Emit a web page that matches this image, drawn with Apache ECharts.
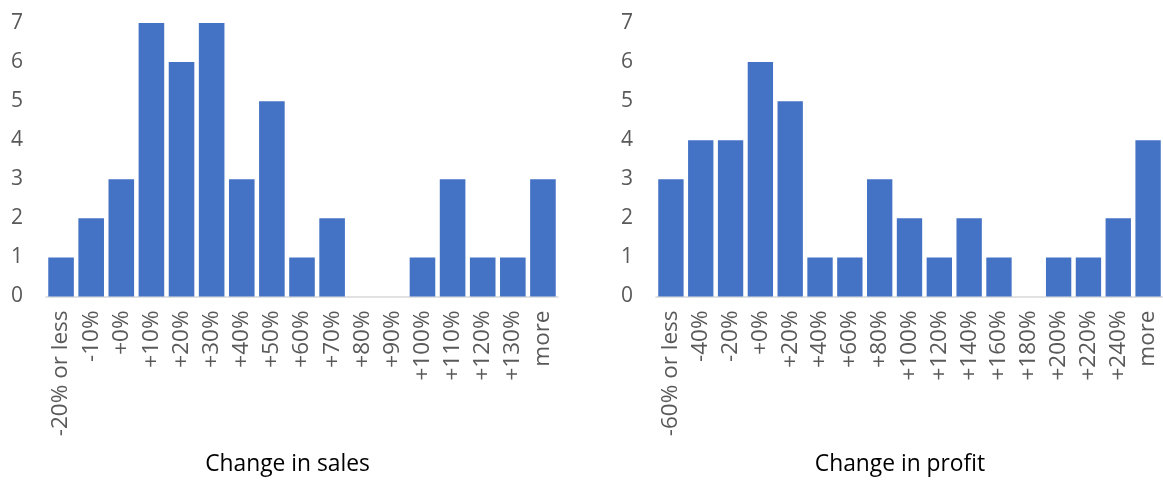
<!DOCTYPE html>
<html>
<head>
<meta charset="utf-8">
<script src="https://cdn.jsdelivr.net/npm/echarts@6/dist/echarts.min.js"></script>
<style>
  html, body { margin: 0; padding: 0; background: #fff; }
  #chart { width: 1163px; height: 481px; }
</style>
</head>
<body>
<div id="chart"></div>
<script>
// Histogram bins and counts
const salesBins = ['-20% or less', '-10%', '+0%', '+10%', '+20%', '+30%', '+40%', '+50%', '+60%', '+70%', '+80%', '+90%', '+100%', '+110%', '+120%', '+130%', 'more'];
const salesCounts = [1, 2, 3, 7, 6, 7, 3, 5, 1, 2, 0, 0, 1, 3, 1, 1, 3];

const profitBins = ['-60% or less', '-40%', '-20%', '+0%', '+20%', '+40%', '+60%', '+80%', '+100%', '+120%', '+140%', '+160%', '+180%', '+200%', '+220%', '+240%', 'more'];
const profitCounts = [3, 4, 4, 6, 5, 1, 1, 3, 2, 1, 2, 1, 0, 1, 1, 2, 4];

const yTicks = { min: 0, max: 7, interval: 1 };
const titles = ['Change in sales', 'Change in profit'];

const FONT = '"Open Sans", "Liberation Sans", sans-serif';
const BAR = '#4472C4';

function xAxis(idx, data) {
  return {
    type: 'category', gridIndex: idx, data: data,
    axisLine: { show: true, lineStyle: { color: '#d9d9d9', width: 1.5 } },
    axisTick: { show: false },
    axisLabel: { rotate: 90, interval: 0, margin: 14, color: '#595959', fontSize: 22.5, fontFamily: FONT }
  };
}
function yAxis(idx) {
  return {
    type: 'value', gridIndex: idx, min: yTicks.min, max: yTicks.max, interval: yTicks.interval,
    axisLine: { show: false }, axisTick: { show: false }, splitLine: { show: false },
    axisLabel: { margin: 23, color: '#595959', fontSize: 21, fontFamily: FONT }
  };
}
function bars(idx, data) {
  return {
    type: 'bar', xAxisIndex: idx, yAxisIndex: idx, data: data,
    barCategoryGap: '15%',
    itemStyle: { color: BAR },
    silent: true, animation: false
  };
}

const chart = echarts.init(document.getElementById('chart'), null, { renderer: 'canvas' });
chart.setOption({
  backgroundColor: '#fff',
  animation: false,
  grid: [
    { left: 46, right: 605, top: 23, bottom: 184.5 },
    { left: 656, right: -7, top: 23, bottom: 184.5 }
  ],
  xAxis: [xAxis(0, salesBins), xAxis(1, profitBins)],
  yAxis: [yAxis(0), yAxis(1)],
  title: [
    { text: titles[0], left: 287.5, top: 453, padding: 0, textAlign: 'center',
      textStyle: { color: '#000', fontSize: 22.8, fontWeight: 'normal', fontFamily: FONT } },
    { text: titles[1], left: 900, top: 453, padding: 0, textAlign: 'center',
      textStyle: { color: '#000', fontSize: 22.8, fontWeight: 'normal', fontFamily: FONT } }
  ],
  series: [bars(0, salesCounts), bars(1, profitCounts)]
});
</script>
</body>
</html>
